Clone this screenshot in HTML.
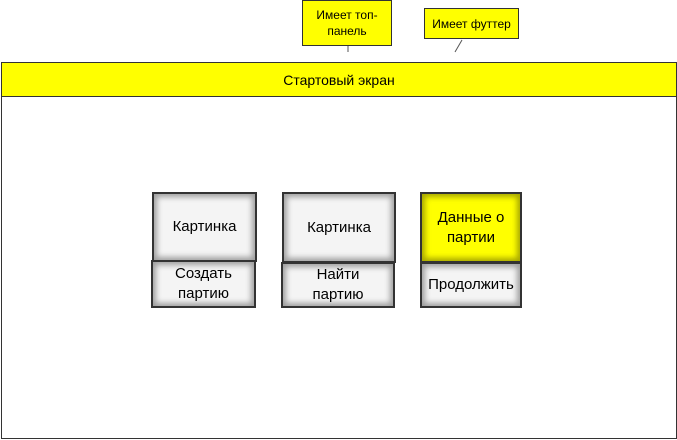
<!DOCTYPE html>
<html><head><meta charset="utf-8"><style>
body{margin:0;width:677px;height:440px;background:#fff;position:relative;font-family:"Liberation Sans",sans-serif;overflow:hidden}
.a{position:absolute;box-sizing:border-box;display:flex;align-items:center;justify-content:center;text-align:center;color:#000}
.y{background:#ffff00;border:1px solid #333}
.b{background:#f4f4f4;border:2px solid #333;box-shadow:inset 0 0 6px 3px rgba(0,0,0,.35);font-size:15px;line-height:20px}
.by{background:#ffff00;border:2px solid #333;box-shadow:inset 0 0 6px 3px rgba(0,0,0,.35);font-size:15px;line-height:20px}
</style></head><body>
<div class="a" style="left:1px;top:62px;width:676px;height:377px;border:1px solid #333"></div>
<div class="a y" style="left:1px;top:62px;width:676px;height:35px;font-size:14px">Стартовый экран</div>
<div class="a y" style="left:302px;top:0;width:90px;height:46px;font-size:12px;line-height:16px">Имеет топ-<br>панель</div>
<div class="a y" style="left:424px;top:8px;width:95px;height:31px;font-size:12px">Имеет футтер</div>
<svg style="position:absolute;left:0;top:0" width="677" height="62"><line x1="348" y1="46" x2="348" y2="52" stroke="#555"/><line x1="462" y1="40" x2="455" y2="52" stroke="#555"/></svg>
<div class="a b" style="left:152px;top:192px;width:105px;height:70px">Картинка</div>
<div class="a b" style="left:151px;top:260px;width:105px;height:48px">Создать<br>партию</div>
<div class="a b" style="left:282px;top:192px;width:114px;height:71px">Картинка</div>
<div class="a b" style="left:281px;top:262px;width:114px;height:46px">Найти<br>партию</div>
<div class="a by" style="left:420px;top:192px;width:102px;height:71px">Данные о<br>партии</div>
<div class="a b" style="left:420px;top:262px;width:102px;height:46px">Продолжить</div>
</body></html>
